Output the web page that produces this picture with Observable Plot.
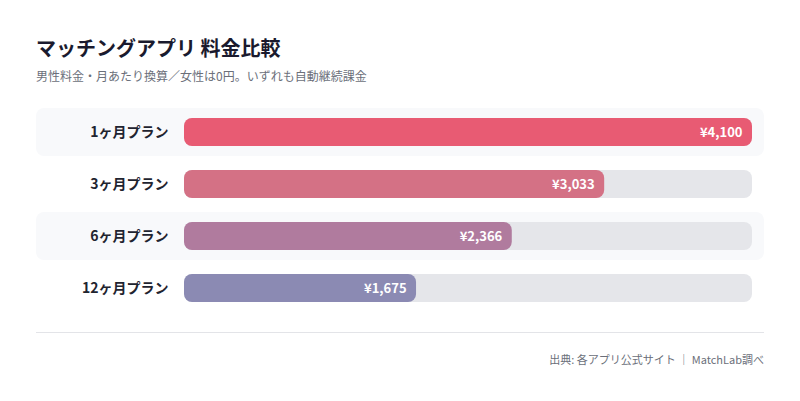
<!DOCTYPE html>
<html><head><meta charset="utf-8">
<script src="https://cdn.jsdelivr.net/npm/d3@7"></script>
<script src="https://cdn.jsdelivr.net/npm/@observablehq/plot@0.6"></script>
<style>
body{margin:0;background:#fff;font-family:"Noto Sans CJK JP","Noto Sans",sans-serif;}
#wrap{position:relative;width:800px;height:401px;overflow:hidden;}
#title{position:absolute;left:36px;top:34px;line-height:28px;font-size:20px;font-weight:700;color:#1a1a2e;}
#sub{position:absolute;left:36px;top:68px;line-height:16px;font-size:12px;color:#6b6f7a;}
#chart{position:absolute;left:0;top:100px;}
#sep{position:absolute;left:36px;width:728px;top:332px;border-top:1px solid #e3e4e8;}
#foot{position:absolute;right:36px;top:351px;line-height:16px;font-size:11px;color:#6b6f7a;}
</style></head>
<body><div id="wrap">
<div id="title">マッチングアプリ 料金比較</div>
<div id="sub">男性料金・月あたり換算／女性は0円。いずれも自動継続課金</div>
<div id="chart"></div>
<div id="sep"></div>
<div id="foot">出典: 各アプリ公式サイト ｜ MatchLab調べ</div>
</div>
<script>
const plans = ["1ヶ月プラン","3ヶ月プラン","6ヶ月プラン","12ヶ月プラン"];
const prices = [4100, 3033, 2366, 1675];
const colors = ["#e85b73","#d47185","#b07b9e","#8b8ab3"];
const shaded = [true, false, true, false];

const data = plans.map((p,i)=>({plan:p, price:prices[i], color:colors[i], shaded:shaded[i]}));
const maxV = d3.max(prices);

const chart = Plot.plot({
  width: 800, height: 230,
  marginLeft: 184, marginRight: 48, marginTop: 0, marginBottom: 0,
  x: {domain:[0, maxV], axis:null},
  y: {domain: plans, range:[6, 214], padding:0, label:null},
  style: {fontFamily:'"Noto Sans CJK JP","Noto Sans",sans-serif', background:"transparent"},
  marks: [
    Plot.barX(data.filter(d=>d.shaded), {y:"plan", x1:0, x2:maxV, fill:"#f8f9fb", insetLeft:-148, insetRight:-12, insetTop:2, insetBottom:2, rx:8}),
    Plot.barX(data, {y:"plan", x1:0, x2:maxV, fill:"#e5e6ea", insetTop:12, insetBottom:12, rx:8}),
    Plot.barX(data, {y:"plan", x1:0, x2:"price", fill:d=>d.color, insetTop:12, insetBottom:12, rx:8}),
    Plot.text(data, {y:"plan", x:"price", text:d=>"¥"+d3.format(",")(d.price), textAnchor:"end", dx:-10, fill:"white", fontWeight:700, fontSize:13}),
    Plot.axisY({tickSize:0, tickPadding:16, fontSize:14, fontWeight:700, fill:"#1f2430", label:null})
  ]
});
document.getElementById("chart").appendChild(chart);
</script>
</body></html>
